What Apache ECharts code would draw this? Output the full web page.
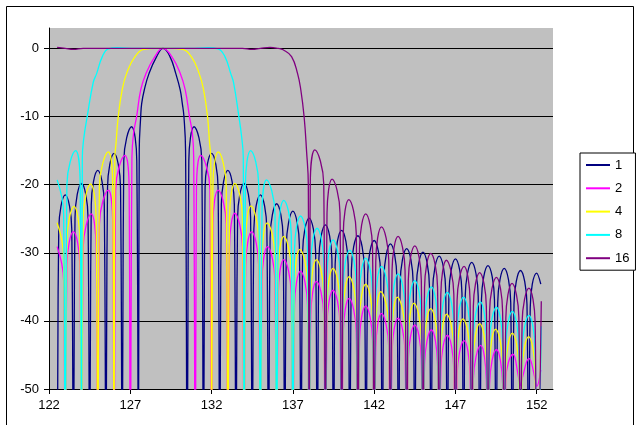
<!DOCTYPE html>
<html>
<head>
<meta charset="utf-8">
<script src="https://cdn.jsdelivr.net/npm/echarts@6/dist/echarts.min.js"></script>
<style>
html,body{margin:0;padding:0;background:#fff;}
#chart{width:640px;height:425px;}
</style>
</head>
<body>
<div id="chart"></div>
<script>
const seriesNames = ['1', '2', '4', '8', '16'];
const xTicks = [122, 127, 132, 137, 142, 147, 152];
const yTicks = [-50, -40, -30, -20, -10, 0];

const s1 = [
[122.5,-70],[122.6,-26.5],[123,-21.5],[123.4,-26.5],[123.5,-70],
[123.6,-24.8],[124,-19.8],[124.4,-24.8],[124.5,-70],
[124.6,-22.9],[125,-17.9],[125.4,-22.9],[125.5,-70],
[125.6,-20.4],[126,-15.4],[126.4,-20.4],[126.5,-70],
[126.6,-16.5],[127.08,-11.5],[127.4,-16.5],[127.5,-70],
[127.55,-15],[127.64,-10],[127.7,-8.1],[127.86,-6.1],[128.15,-3.7],[128.62,-1.2],[129.02,0],[129.44,-1.2],[129.8,-3.7],[130.07,-6.1],[130.2,-8.1],[130.3,-10],[130.4,-15],[130.5,-70],
[130.6,-16.5],[130.92,-11.5],[131.4,-16.5],[131.5,-70],
[131.6,-20.4],[132,-15.4],[132.4,-20.4],[132.5,-70],
[132.6,-22.9],[133,-17.9],[133.4,-22.9],[133.5,-70],
[133.6,-24.8],[134,-19.8],[134.4,-24.8],[134.5,-70],
[134.6,-26.5],[135,-21.5],[135.4,-26.5],[135.5,-70],
[135.6,-27.8],[136,-22.8],[136.4,-27.8],[136.5,-70],
[136.6,-28.9],[137,-23.9],[137.4,-28.9],[137.5,-70],
[137.6,-29.9],[138,-24.9],[138.4,-29.9],[138.5,-70],
[138.6,-30.9],[139,-25.9],[139.4,-30.9],[139.5,-70],
[139.6,-31.7],[140,-26.7],[140.4,-31.7],[140.5,-70],
[140.6,-32.5],[141,-27.5],[141.4,-32.5],[141.5,-70],
[141.6,-33.2],[142,-28.2],[142.4,-33.2],[142.5,-70],
[142.6,-33.7],[143,-28.7],[143.4,-33.7],[143.5,-70],
[143.6,-34.4],[144,-29.4],[144.4,-34.4],[144.5,-70],
[144.6,-34.9],[145,-29.9],[145.4,-34.9],[145.5,-70],
[145.6,-35.5],[146,-30.5],[146.4,-35.5],[146.5,-70],
[146.6,-35.9],[147,-30.9],[147.4,-35.9],[147.5,-70],
[147.6,-36.4],[148,-31.4],[148.4,-36.4],[148.5,-70],
[148.6,-36.9],[149,-31.9],[149.4,-36.9],[149.5,-70],
[149.6,-37.3],[150,-32.3],[150.4,-37.3],[150.5,-70],
[150.6,-37.6],[151,-32.6],[151.4,-37.6],[151.5,-70],
[151.6,-38.0],[152,-33.0],[152.25,-34.6]
];

const s2 = [
[122.5,-29.1],[122.9,-34.1],[123,-70],
[123.1,-31.9],[123.5,-26.9],[123.9,-31.9],[124,-70],
[124.1,-29.3],[124.6,-24.3],[124.9,-29.3],[125,-70],
[125.1,-25.8],[125.65,-20.8],[125.92,-25.8],[126,-70],
[126.1,-20.7],[126.67,-15.7],[126.93,-20.7],[127,-70],
[127.1,-16],[127.2,-12.5],[127.39,-10],[127.64,-6.1],[127.96,-3.7],[128.51,-1.2],[129,0],[129.55,-1.2],[130.08,-3.7],[130.38,-6.1],[130.64,-10],[130.82,-12.5],[130.9,-16],[131,-70],
[131.07,-20.7],[131.33,-15.7],[131.9,-20.7],[132,-70],
[132.08,-25.8],[132.4,-20.8],[132.9,-25.8],[133,-70],
[133.1,-29.2],[133.43,-24.2],[133.9,-29.2],[134,-70],
[134.1,-31.9],[134.46,-26.9],[134.9,-31.9],[135,-70],
[135.1,-34.1],[135.44,-29.1],[135.9,-34.1],[136,-70],
[136.1,-36],[136.44,-31],[136.9,-36],[137,-70],
[137.1,-37.7],[137.47,-32.7],[137.9,-37.7],[138,-70],
[138.1,-39.2],[138.45,-34.2],[138.9,-39.2],[139,-70],
[139.1,-40.5],[139.47,-35.5],[139.9,-40.5],[140,-70],
[140.1,-41.7],[140.46,-36.7],[140.9,-41.7],[141,-70],
[141.1,-42.8],[141.48,-37.8],[141.9,-42.8],[142,-70],
[142.1,-43.9],[142.45,-38.9],[142.9,-43.9],[143,-70],
[143.1,-44.6],[143.47,-39.6],[143.9,-44.6],[144,-70],
[144.1,-45.6],[144.5,-40.6],[144.9,-45.6],[145,-70],
[145.1,-46.3],[145.52,-41.3],[145.9,-46.3],[146,-70],
[146.1,-47.1],[146.5,-42.1],[146.9,-47.1],[147,-70],
[147.1,-47.9],[147.53,-42.9],[147.9,-47.9],[148,-70],
[148.1,-48.6],[148.55,-43.6],[148.9,-48.6],[149,-70],
[149.1,-49.2],[149.52,-44.2],[149.9,-49.2],[150,-70],
[150.1,-48.5],[150.54,-44.9],[150.9,-48.5],[151,-49.5],
[151.1,-48.5],[151.52,-45.5],[151.9,-48.5],[152,-49.6],[152.25,-47.2]
];

const s3 = [
[122.5,-25.6],[122.9,-30.6],[123,-70],
[123.1,-28.2],[123.54,-23.2],[123.9,-28.2],[124,-70],
[124.1,-24.9],[124.56,-19.9],[124.9,-24.9],[125,-70],
[125.1,-20.2],[125.65,-15.2],[125.92,-20.2],[126,-70],
[126.05,-16],[126.12,-14],[126.26,-10],[126.5,-6.1],[126.77,-3.7],[127.29,-1.2],[127.9,-0.1],[128.5,0],[129,0],[129.5,0],[130.15,-0.1],[130.75,-1.2],[131.24,-3.7],[131.51,-6.1],[131.75,-10],[131.88,-14],[131.95,-16],[132,-70],
[132.08,-20.2],[132.41,-15.2],[132.9,-20.2],[133,-70],
[133.1,-24.8],[133.43,-19.8],[133.9,-24.8],[134,-70],
[134.1,-28.1],[134.42,-23.1],[134.9,-28.1],[135,-70],
[135.1,-30.6],[135.42,-25.6],[135.9,-30.6],[136,-70],
[136.1,-32.6],[136.44,-27.6],[136.9,-32.6],[137,-70],
[137.1,-34.5],[137.43,-29.5],[137.9,-34.5],[138,-70],
[138.1,-36],[138.45,-31],[138.9,-36],[139,-70],
[139.1,-37.3],[139.47,-32.3],[139.9,-37.3],[140,-70],
[140.1,-38.5],[140.46,-33.5],[140.9,-38.5],[141,-70],
[141.1,-39.6],[141.48,-34.6],[141.9,-39.6],[142,-70],
[142.1,-40.7],[142.41,-35.7],[142.9,-40.7],[143,-70],
[143.1,-41.5],[143.43,-36.5],[143.9,-41.5],[144,-70],
[144.1,-42.4],[144.45,-37.4],[144.9,-42.4],[145,-70],
[145.1,-43.2],[145.48,-38.2],[145.9,-43.2],[146,-70],
[146.1,-44],[146.46,-39],[146.9,-44],[147,-70],
[147.1,-44.7],[147.46,-39.7],[147.9,-44.7],[148,-70],
[148.1,-45.4],[148.49,-40.4],[148.9,-45.4],[149,-70],
[149.1,-46.2],[149.47,-41.2],[149.9,-46.2],[150,-70],
[150.1,-46.8],[150.5,-41.8],[150.9,-46.8],[151,-70],
[151.1,-47.3],[151.5,-42.3],[151.9,-47.3],[152,-70],[152.24,-44.2]
];

const s4 = [
[122.5,-19.3],[122.9,-24.3],[123,-70],
[123.1,-20],[123.64,-15],[123.92,-20],[124,-70],
[124.05,-16],[124.15,-13],[124.35,-10],[124.72,-5],[124.93,-3.7],[125.28,-1.2],[125.65,-0.05],[126.2,0.1],[127.3,0],[129,0],[130.7,0],[131.8,0.1],[132.4,-0.05],[132.82,-1.2],[133.18,-3.7],[133.35,-5],[133.68,-10],[133.85,-13],[133.95,-16],[134,-70],
[134.08,-20],[134.4,-15],[134.9,-20],[135,-70],
[135.1,-24.3],[135.38,-19.3],[135.9,-24.3],[136,-70],
[136.1,-27.3],[136.44,-22.3],[136.9,-27.3],[137,-70],
[137.1,-29.6],[137.47,-24.6],[137.9,-29.6],[138,-70],
[138.1,-31.4],[138.49,-26.4],[138.9,-31.4],[139,-70],
[139.1,-33.1],[139.47,-28.1],[139.9,-33.1],[140,-70],
[140.1,-34.6],[140.5,-29.6],[140.9,-34.6],[141,-70],
[141.1,-35.8],[141.48,-30.8],[141.9,-35.8],[142,-70],
[142.1,-37],[142.45,-32],[142.9,-37],[143,-70],
[143.1,-38.1],[143.47,-33.1],[143.9,-38.1],[144,-70],
[144.1,-39.1],[144.5,-34.1],[144.9,-39.1],[145,-70],
[145.1,-40],[145.52,-35],[145.9,-40],[146,-70],
[146.1,-40.8],[146.5,-35.8],[146.9,-40.8],[147,-70],
[147.1,-41.5],[147.5,-36.5],[147.9,-41.5],[148,-70],
[148.1,-42.2],[148.53,-37.2],[148.9,-42.2],[149,-70],
[149.1,-43],[149.52,-38],[149.9,-43],[150,-70],
[150.1,-43.6],[150.5,-38.6],[150.9,-43.6],[151,-70],
[151.1,-44.2],[151.52,-39.2],[151.9,-44.2],[152,-70],[152.28,-40.8]
];

const s5 = [
[122.5,0.15],[123,0],[123.5,-0.15],[124.1,0],[129,0],[133.9,0],[134.5,-0.15],[135,0],[135.6,0.15],[136.1,0],[136.4,-0.2],[136.92,-1.2],[137.29,-3.7],[137.49,-6.1],[137.69,-10],[137.84,-15],[137.95,-20],[138,-70],
[138.07,-19.9],[138.35,-14.9],[138.9,-19.9],[139,-70],
[139.1,-24.2],[139.41,-19.2],[139.9,-24.2],[140,-70],
[140.1,-27.2],[140.44,-22.2],[140.9,-27.2],[141,-70],
[141.1,-29.3],[141.48,-24.3],[141.9,-29.3],[142,-70],
[142.1,-31.2],[142.45,-26.2],[142.9,-31.2],[143,-70],
[143.1,-32.6],[143.47,-27.6],[143.9,-32.6],[144,-70],
[144.1,-34],[144.5,-29],[144.9,-34],[145,-70],
[145.1,-35.1],[145.48,-30.1],[145.9,-35.1],[146,-70],
[146.1,-36.1],[146.44,-31.1],[146.9,-36.1],[147,-70],
[147.1,-37],[147.53,-32],[147.9,-37],[148,-70],
[148.1,-37.9],[148.49,-32.9],[148.9,-37.9],[149,-70],
[149.1,-38.6],[149.52,-33.6],[149.9,-38.6],[150,-70],
[150.1,-39.5],[150.48,-34.5],[150.9,-39.5],[151,-70],
[151.1,-40.2],[151.52,-35.2],[151.9,-40.2],[152,-70],[152.28,-37.1]
];

const seriesData = [s1, s2, s3, s4, s5];
const colors = ['#000080', '#FF00FF', '#FFFF00', '#00FFFF', '#800080'];
const FONT = '"Liberation Sans", Arial, sans-serif';

const chart = echarts.init(document.getElementById('chart'), null, {renderer: 'canvas'});
chart.setOption({
  animation: false,
  backgroundColor: '#ffffff',
  color: colors,
  grid: {
    left: 49, top: 28, right: 87, bottom: 36,
    show: true, backgroundColor: '#C0C0C0', borderWidth: 0,
    containLabel: false, outerBoundsMode: 'none'
  },
  graphic: [{
    type: 'rect', silent: true,
    shape: {x: 6.5, y: 6.5, width: 627, height: 430},
    style: {fill: null, stroke: '#000', lineWidth: 1}
  }],
  legend: {
    orient: 'vertical', left: 580, top: 153,
    padding: [5, 6, 5, 6], itemGap: 9.3,
    itemWidth: 24, itemHeight: 2, icon: 'rect',
    backgroundColor: '#fff', borderColor: '#000', borderWidth: 1,
    textStyle: {fontFamily: FONT, fontSize: 13, color: '#000', lineHeight: 14, padding: [0, 0, 0, 0]},
    itemTextGap: 4,
    data: seriesNames
  },
  xAxis: {
    type: 'value', min: 122, max: 153, interval: 5,
    axisLine: {show: true, onZero: false, lineStyle: {color: '#000', width: 1}},
    axisTick: {show: true, length: 5, inside: false, customValues: xTicks, lineStyle: {color: '#000'}},
    axisLabel: {customValues: xTicks, margin: 10, fontFamily: FONT, fontSize: 13, color: '#000'},
    splitLine: {show: false}
  },
  yAxis: {
    type: 'value', min: -50, max: 3, interval: 10,
    axisLine: {show: true, onZero: false, lineStyle: {color: '#000', width: 1}},
    axisTick: {show: true, length: 5, inside: false, customValues: yTicks, lineStyle: {color: '#000'}},
    axisLabel: {customValues: yTicks, margin: 10, fontFamily: FONT, fontSize: 13, color: '#000'},
    splitLine: {show: true, lineStyle: {color: '#000', width: 1}}
  },
  series: seriesNames.map((n, i) => ({
    name: n, type: 'line', data: seriesData[i],
    showSymbol: false, symbol: 'none', smooth: 0.45, clip: true,
    lineStyle: {color: colors[i], width: 1.3},
    itemStyle: {color: colors[i]},
    emphasis: {disabled: true}
  }))
});
</script>
</body>
</html>
